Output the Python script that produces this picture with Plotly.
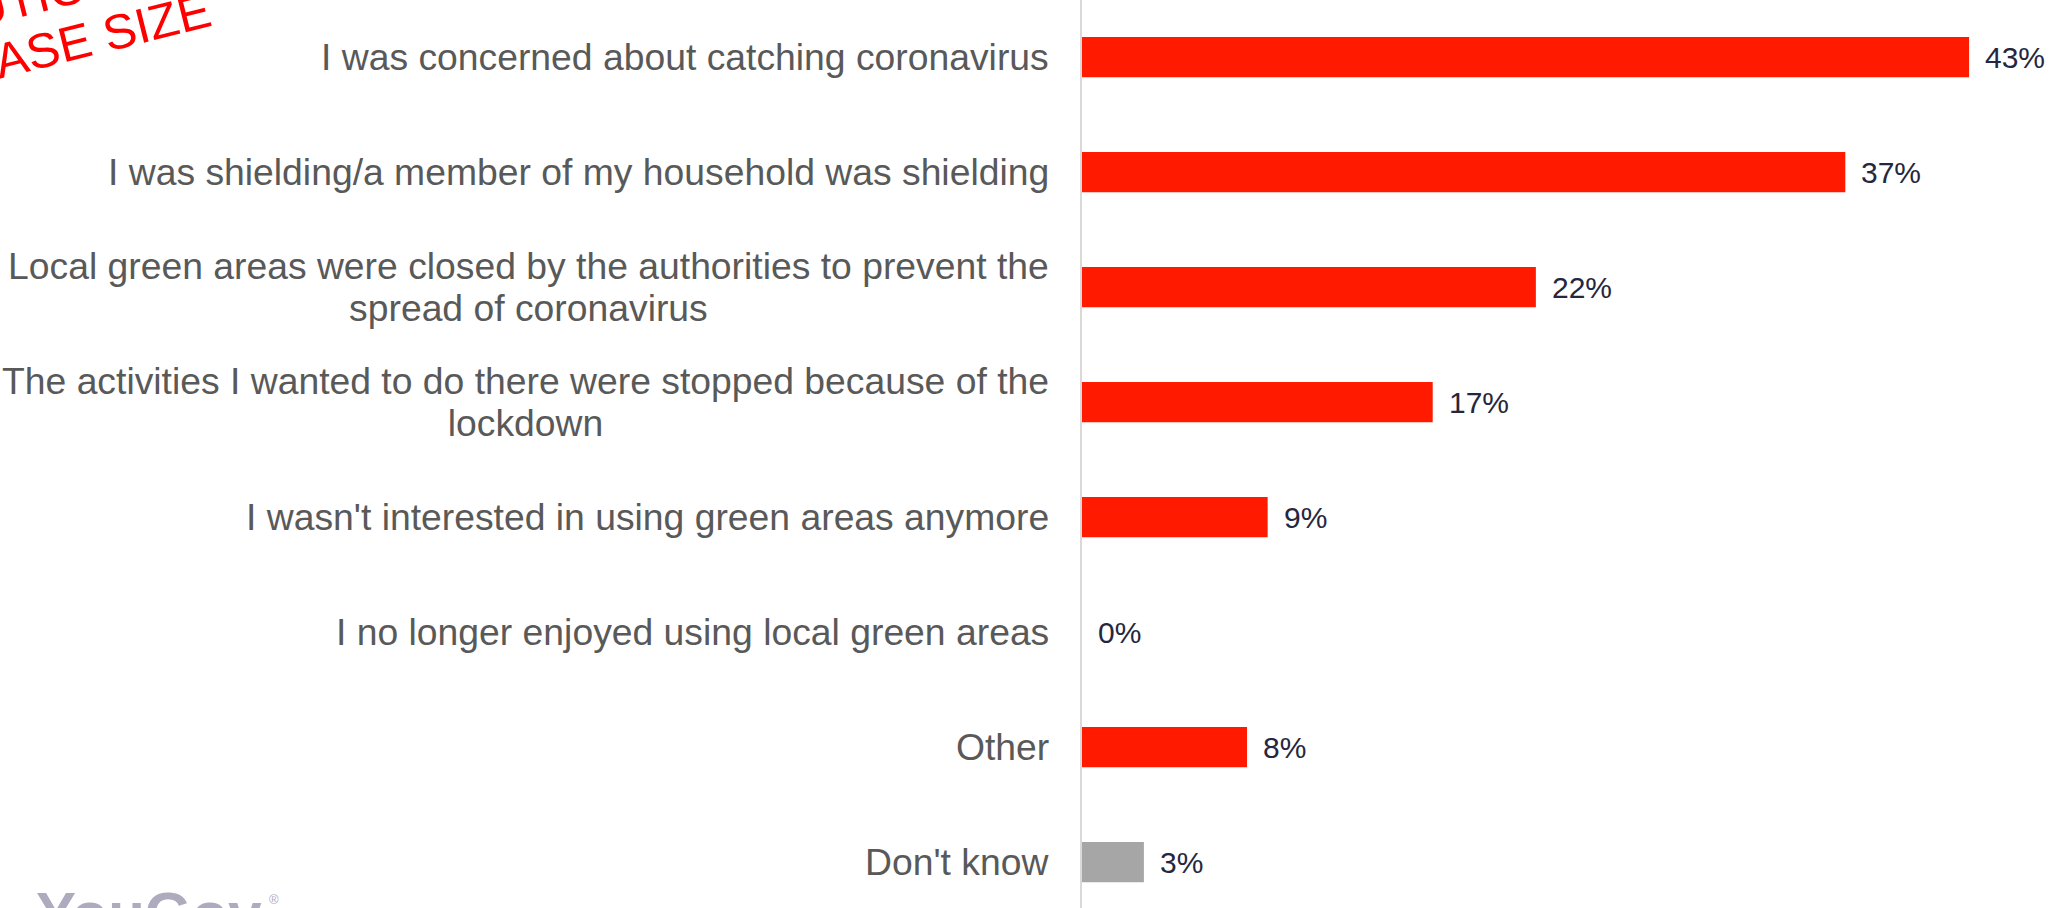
import plotly.graph_objects as go

categories = [
    "I was concerned about catching coronavirus",
    "I was shielding/a member of my household was shielding",
    "Local green areas were closed by the authorities to prevent the<br>spread of coronavirus",
    "The activities I wanted to do there were stopped because of the<br>lockdown",
    "I wasn't interested in using green areas anymore",
    "I no longer enjoyed using local green areas",
    "Other",
    "Don't know",
]
values = [43, 37, 22, 17, 9, 0, 8, 3]
value_labels = ["43%", "37%", "22%", "17%", "9%", "0%", "8%", "3%"]
bar_colors = ["#ff1a00"] * 7 + ["#a6a6a6"]

W, H = 2049, 908
LEFT = 1082
FONT = "Liberation Sans, Arial, sans-serif"

fig = go.Figure()
fig.add_trace(go.Bar(
    x=values,
    y=categories,
    orientation="h",
    width=0.35,
    marker=dict(color=bar_colors, line=dict(width=0)),
    hoverinfo="skip",
    showlegend=False,
))

def sized(text, size):
    # wrap each line in a span so the glyph size differs from the line-spacing base
    return "<br>".join(f"<span style='font-size:{size}px'>{part}</span>" for part in text.split("<br>"))

annotations = []
# category labels
for cat in categories:
    annotations.append(dict(
        x=0, xref="paper", y=cat, yref="y",
        text=sized(cat, 37.3), showarrow=False,
        xanchor="right", yanchor="middle", align="center",
        xshift=-31,
        font=dict(family=FONT, size=32, color="#595959"),
    ))
# value labels
for cat, v, lab in zip(categories, values, value_labels):
    annotations.append(dict(
        x=v, xref="x", y=cat, yref="y",
        text=lab, showarrow=False,
        xanchor="left", yanchor="middle",
        xshift=14,
        font=dict(family=FONT, size=30, color="#262640"),
    ))

def px_x(p):
    return (p - LEFT) / (W - LEFT)

def px_y(p):
    return 1 - p / H

# red caution watermark
annotations.append(dict(
    x=px_x(18.5), xref="paper", y=px_y(28), yref="paper",
    text=sized("CAUTION<br>LOW BASE SIZE", 49), showarrow=False,
    xanchor="center", yanchor="middle", align="center",
    textangle=-14,
    font=dict(family=FONT, size=42, color="#ff0000"),
))
# YouGov logo (cut off at bottom)
annotations.append(dict(
    x=px_x(34), xref="paper", y=px_y(878), yref="paper",
    text="<b>YouGov</b>", showarrow=False,
    xanchor="left", yanchor="top",
    font=dict(family=FONT, size=60, color="#aeabbf"),
))
annotations.append(dict(
    x=px_x(267), xref="paper", y=px_y(890), yref="paper",
    text="®", showarrow=False,
    xanchor="left", yanchor="top",
    font=dict(family=FONT, size=13, color="#aeabbf"),
))

fig.update_layout(
    width=W, height=H,
    margin=dict(l=LEFT, r=0, t=0, b=0),
    paper_bgcolor="white", plot_bgcolor="white",
    xaxis=dict(range=[0, (W - LEFT) / 20.63], visible=False, showgrid=False, zeroline=False),
    yaxis=dict(
        type="category",
        categoryorder="array", categoryarray=categories,
        range=[7.40, -0.496],
        showticklabels=False, showgrid=False, zeroline=False,
        showline=True, linecolor="#d9d9d9", linewidth=2, ticks="",
    ),
    annotations=annotations,
)

fig.write_html(
    "out.html",
    config={"displayModeBar": False, "staticPlot": True},
    post_script="document.body.style.margin='0';document.body.style.overflow='hidden';",
)
